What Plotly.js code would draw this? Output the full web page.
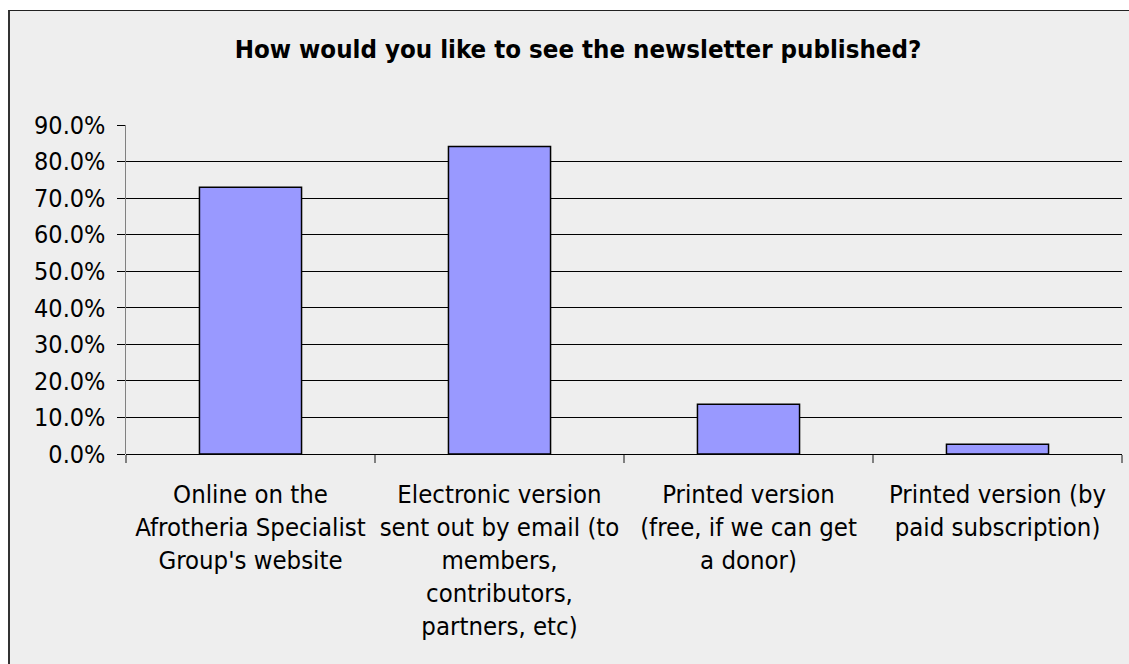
<!DOCTYPE html>
<html>
<head>
<meta charset="utf-8">
<script src="https://cdn.plot.ly/plotly-3.0.1.min.js"></script>
<style>
  html, body { margin:0; padding:0; background:#ffffff; overflow:hidden; width:1129px; height:664px; }
  #frame { position:absolute; left:8px; top:10px; border-left:2px solid #333; border-top:1px solid #222; background:#eeeeee; width:1136px; height:680px; }
  #chart { width:1136px; height:680px; }
</style>
</head>
<body>
<div id="frame"><div id="chart"></div></div>
<script>
const chartTitle = "How would you like to see the newsletter published?";
const categories = [
  "Online on the<br>Afrotheria Specialist<br>Group's website",
  "Electronic version<br>sent out by email (to<br>members,<br>contributors,<br>partners, etc)",
  "Printed version<br>(free, if we can get<br>a donor)",
  "Printed version (by<br>paid subscription)"
];
const percentValues = [73.0, 84.1, 13.6, 2.7];
const yTickValues = [0, 10, 20, 30, 40, 50, 60, 70, 80, 90];
const yTickLabels = ["0.0%", "10.0%", "20.0%", "30.0%", "40.0%", "50.0%", "60.0%", "70.0%", "80.0%", "90.0%"];

const FONT = "'DejaVu Sans Condensed', 'DejaVu Sans', sans-serif";

const trace = {
  type: 'bar',
  x: categories,
  y: percentValues,
  marker: { color: '#9999ff', line: { color: '#000000', width: 1.5 } },
  hoverinfo: 'skip'
};

const layout = {
  width: 1136,
  height: 680,
  paper_bgcolor: '#eeeeee',
  plot_bgcolor: '#eeeeee',
  margin: { l: 116, r: 24, t: 113.5, b: 237, pad: 0 },
  font: { family: FONT, size: 25, color: '#000000' },
  title: {
    text: '<b>' + chartTitle + '</b>',
    font: { family: FONT, size: 25.6, color: '#000000' },
    x: 0.5, xanchor: 'center',
    y: 1 - 38/680, yanchor: 'middle', yref: 'container'
  },
  showlegend: false,
  bargap: 0.59,
  xaxis: {
    type: 'category',
    showgrid: false,
    zeroline: false,
    showline: false,
    ticks: 'outside',
    tickson: 'boundaries',
    ticklen: 8,
    tickcolor: '#808080',
    tickwidth: 1.5,
    tickangle: 0,
    tickfont: { family: FONT, size: 25.5, color: '#000000' },
    ticklabelstandoff: 22,
    fixedrange: true
  },
  yaxis: {
    range: [0, 90],
    tickmode: 'array',
    tickvals: yTickValues,
    ticktext: yTickLabels,
    showgrid: true,
    gridcolor: '#000000',
    gridwidth: 1,
    zeroline: true,
    zerolinecolor: '#000000',
    zerolinewidth: 1,
    showline: true,
    linecolor: '#808080',
    linewidth: 1.5,
    ticks: 'outside',
    ticklen: 8,
    tickcolor: '#000000',
    tickwidth: 1,
    tickfont: { family: FONT, size: 25, color: '#000000' },
    ticklabelstandoff: 6,
    fixedrange: true
  }
};

Plotly.newPlot('chart', [trace], layout, { displayModeBar: false, staticPlot: true });
</script>
</body>
</html>
